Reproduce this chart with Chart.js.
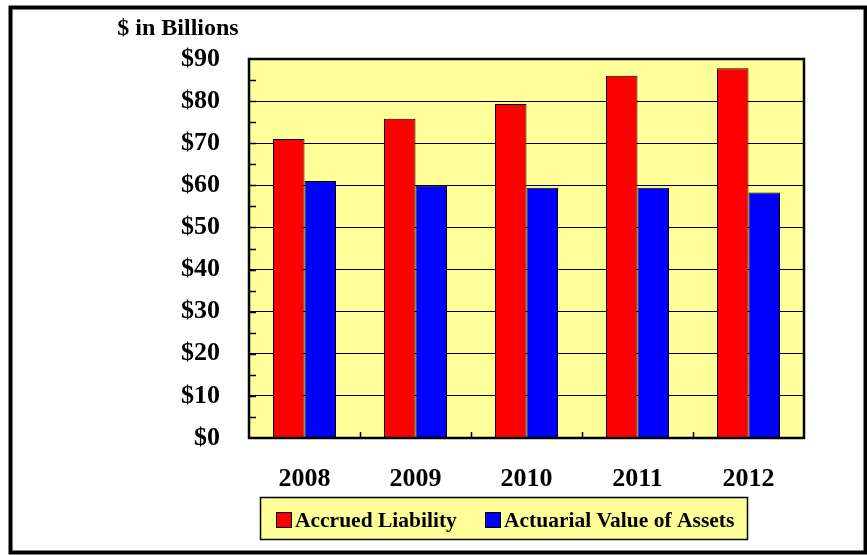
<!DOCTYPE html>
<html>
<head>
<meta charset="utf-8">
<script src="https://cdn.jsdelivr.net/npm/chart.js@4"></script>
<style>
  html, body { margin: 0; padding: 0; background: #ffffff; }
  #wrap { width: 867px; height: 555px; }
</style>
</head>
<body>
<div id="wrap"><canvas id="chart" width="867" height="555"></canvas></div>
<script>
// chart values
const years = ['2008', '2009', '2010', '2011', '2012'];
const accruedLiability = [71.0, 75.8, 79.3, 86.0, 87.8];
const actuarialAssets = [61.0, 59.9, 59.4, 59.4, 58.3];
const seriesNames = ['Accrued Liability', 'Actuarial Value of Assets'];
const yMin = 0;
const yMax = 90;
const yStep = 10;
const unitLabel = '$ in Billions';

const FONT = '"Liberation Serif", "Times New Roman", serif';
const PLOT_BG = '#ffff99';

// frame, plot background, minor ticks, plot border, unit label, legend
const decorations = {
  id: 'decorations',
  beforeDraw(chart) {
    const ctx = chart.ctx;
    const a = chart.chartArea;
    ctx.save();
    ctx.fillStyle = '#ffffff';
    ctx.fillRect(0, 0, chart.width, chart.height);
    ctx.fillStyle = PLOT_BG;
    ctx.fillRect(a.left, a.top, a.right - a.left, a.bottom - a.top);
    ctx.restore();
  },
  afterDraw(chart) {
    const ctx = chart.ctx;
    const a = chart.chartArea;
    const x = chart.scales.x;
    const y = chart.scales.y;
    ctx.save();

    // short ticks on the value axis (every half step)
    ctx.strokeStyle = '#000000';
    ctx.lineWidth = 1.5;
    for (let v = yMin + yStep / 2; v < yMax; v += yStep / 2) {
      const py = Math.round(y.getPixelForValue(v)) + 0.5;
      ctx.beginPath();
      ctx.moveTo(a.left, py);
      ctx.lineTo(a.left + 7, py);
      ctx.stroke();
    }
    // category separators at the bottom
    for (let i = 0; i < years.length - 1; i++) {
      const px = Math.round((x.getPixelForValue(i) + x.getPixelForValue(i + 1)) / 2) + 0.5;
      ctx.beginPath();
      ctx.moveTo(px, a.bottom);
      ctx.lineTo(px, a.bottom - 6);
      ctx.stroke();
    }

    // plot border
    ctx.lineWidth = 2.5;
    ctx.strokeRect(a.left, a.top, a.right - a.left, a.bottom - a.top);

    // outer frame
    ctx.lineWidth = 4;
    ctx.strokeRect(10.5, 7.5, chart.width - 12, chart.height - 10);

    // unit label
    ctx.fillStyle = '#000000';
    ctx.font = 'bold 24px ' + FONT;
    ctx.textAlign = 'center';
    ctx.textBaseline = 'middle';
    ctx.fillText(unitLabel, 178, 29);

    // legend box
    const lx = 260, ly = 497, lw = 487, lh = 42;
    ctx.fillStyle = PLOT_BG;
    ctx.fillRect(lx, ly, lw, lh);
    ctx.lineWidth = 1.5;
    ctx.strokeStyle = '#000000';
    ctx.strokeRect(lx + 0.5, ly + 0.5, lw, lh);

    ctx.font = 'bold 21.5px ' + FONT;
    ctx.textAlign = 'left';
    ctx.textBaseline = 'middle';
    const itemX = [276, 485];
    chart.data.datasets.forEach((ds, i) => {
      const sx = itemX[i];
      const sy = 512;
      ctx.fillStyle = ds.backgroundColor;
      ctx.fillRect(sx, sy, 15, 15);
      ctx.lineWidth = 1;
      ctx.strokeStyle = '#000000';
      ctx.strokeRect(sx + 0.5, sy + 0.5, 15, 15);
      ctx.fillStyle = '#000000';
      ctx.fillText(ds.label, sx + 19, sy + 9);
    });
    ctx.restore();
  }
};

const chart = new Chart(document.getElementById('chart'), {
  type: 'bar',
  data: {
    labels: years,
    datasets: [
      {
        label: seriesNames[0],
        data: accruedLiability,
        backgroundColor: '#ff0000',
        borderColor: '#000000',
        borderWidth: 1
      },
      {
        label: seriesNames[1],
        data: actuarialAssets,
        backgroundColor: '#0000ff',
        borderColor: '#000000',
        borderWidth: 1
      }
    ]
  },
  options: {
    responsive: false,
    animation: false,
    events: [],
    categoryPercentage: 0.568,
    barPercentage: 1.0,
    layout: { padding: { left: 0, top: 59, right: 63, bottom: 57 } },
    plugins: {
      legend: { display: false },
      title: { display: false },
      tooltip: { enabled: false }
    },
    scales: {
      x: {
        grid: { display: false, drawTicks: false },
        border: { display: false },
        ticks: {
          color: '#000000',
          font: { family: FONT, size: 26, weight: 'bold' },
          padding: 26,
          maxRotation: 0
        },
        afterFit(scale) { scale.height = 60; }
      },
      y: {
        min: yMin,
        max: yMax,
        grid: {
          color: '#000000',
          lineWidth: 1,
          drawTicks: false
        },
        border: { display: false },
        ticks: {
          stepSize: yStep,
          color: '#000000',
          font: { family: FONT, size: 26, weight: 'bold' },
          padding: 29,
          callback: v => '$' + v
        },
        afterFit(scale) { scale.width = 249; }
      }
    }
  },
  plugins: [decorations]
});
</script>
</body>
</html>
